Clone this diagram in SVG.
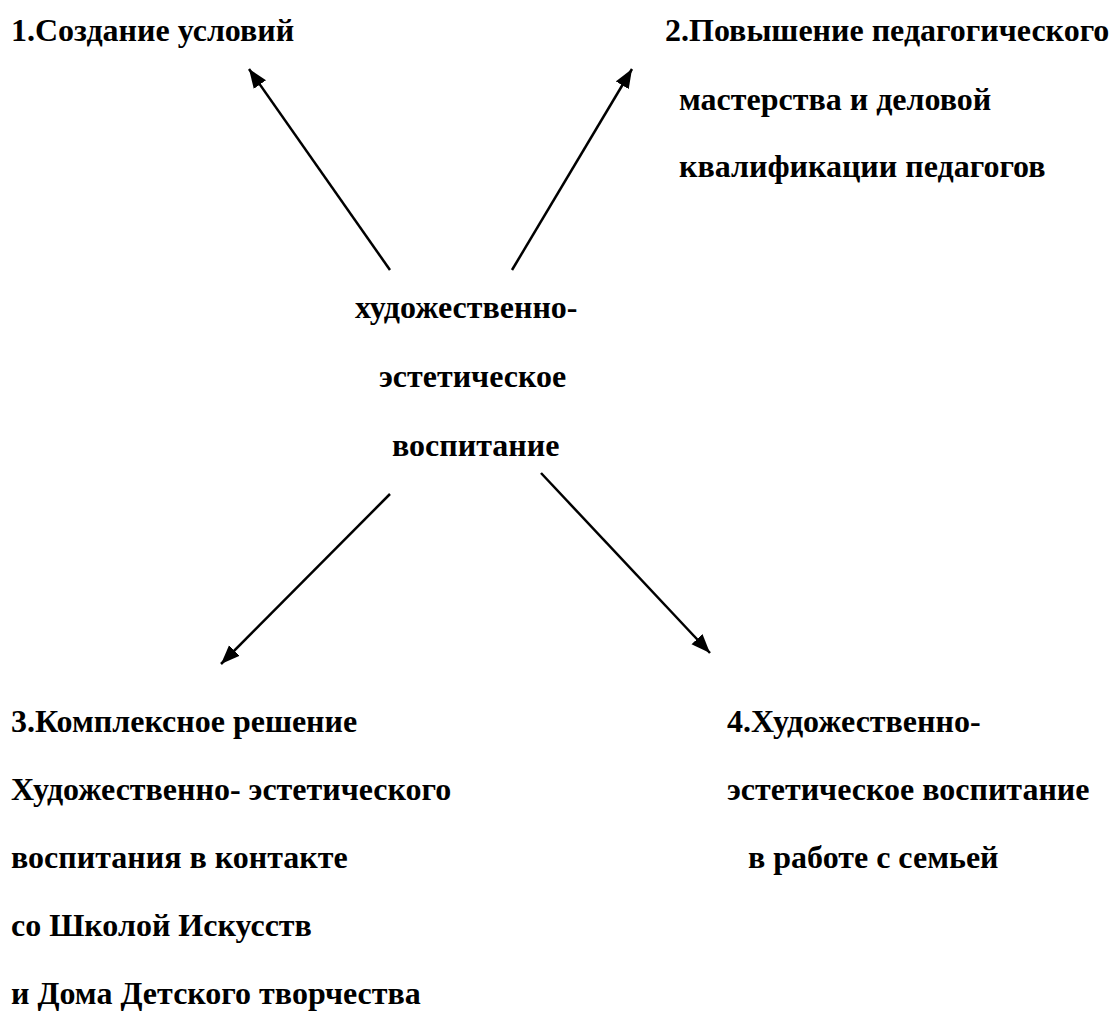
<svg xmlns="http://www.w3.org/2000/svg" width="1112" height="1011" viewBox="0 0 1112 1011">
<style>
.t{font-family:'Liberation Serif','Times New Roman','DejaVu Serif',serif;font-weight:700;font-size:32px;fill:#000}
.c{stroke:#000;stroke-width:2.5;fill:none}
</style>
<defs>
<marker id="ah" markerUnits="userSpaceOnUse" markerWidth="20" markerHeight="16" refX="19" refY="8" orient="auto">
<path d="M0,0.5 L19,8 L0,15.5 z" fill="#000"/>
</marker>
</defs>
<rect width="1112" height="1011" fill="#fff"/>
<g id="connectors">
<line class="c" x1="390" y1="270" x2="249" y2="69" marker-end="url(#ah)"/>
<line class="c" x1="512" y1="270" x2="632" y2="69" marker-end="url(#ah)"/>
<line class="c" x1="390" y1="494" x2="221" y2="664" marker-end="url(#ah)"/>
<line class="c" x1="541" y1="473" x2="710" y2="653" marker-end="url(#ah)"/>
</g>
<g id="node-1" class="t">
<text x="11" y="41">1.Создание условий</text>
</g>
<g id="node-2" class="t">
<text x="665" y="41">2.Повышение педагогического</text>
<text x="679" y="110">мастерства и деловой</text>
<text x="679" y="177">квалификации педагогов</text>
</g>
<g id="node-center" class="t">
<text x="355" y="318">художественно-</text>
<text x="379" y="387">эстетическое</text>
<text x="392" y="456">воспитание</text>
</g>
<g id="node-3" class="t">
<text x="11" y="732">3.Комплексное решение</text>
<text x="11" y="800">Художественно- эстетического</text>
<text x="11" y="868">воспитания в контакте</text>
<text x="11" y="936">со Школой Искусств</text>
<text x="11" y="1004">и Дома Детского творчества</text>
</g>
<g id="node-4" class="t">
<text x="727" y="732">4.Художественно-</text>
<text x="727" y="800">эстетическое воспитание</text>
<text x="748" y="868">в работе с семьей</text>
</g>
</svg>
